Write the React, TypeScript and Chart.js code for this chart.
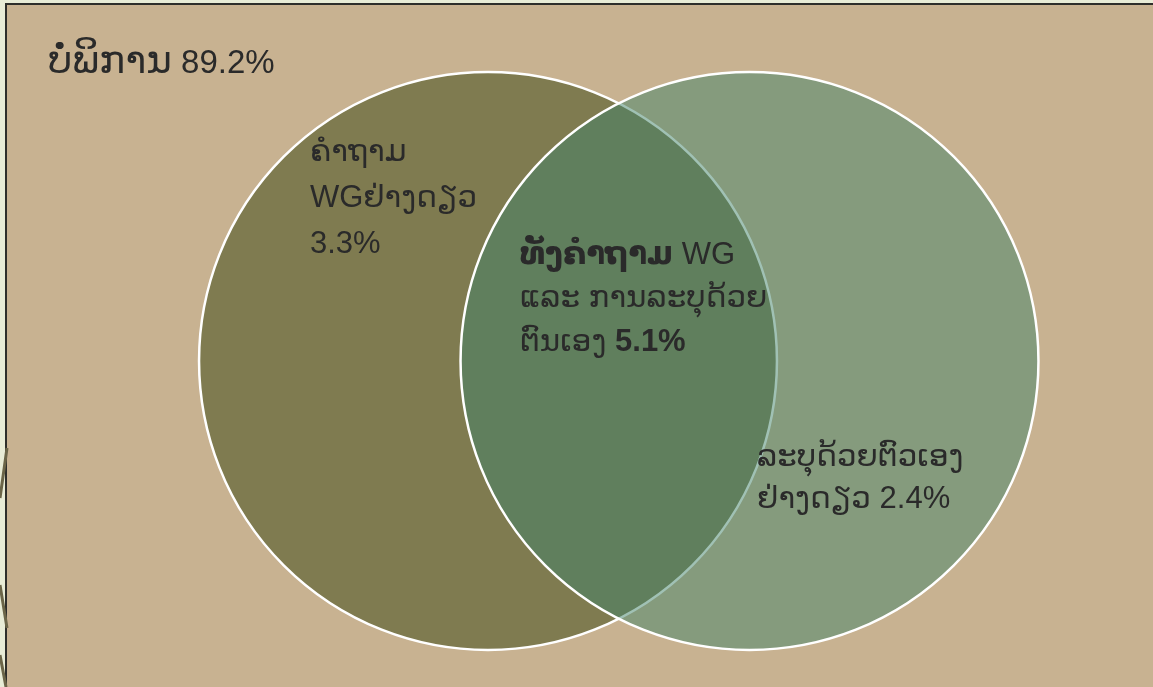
import React, { useEffect, useRef } from "react";
import { Chart, registerables } from "chart.js";

Chart.register(...registerables);

// ---- data ----
const setNames = ["ຄຳຖາມ WG", "ລະບຸດ້ວຍຕົວເອງ"];
const centerX = [-0.5, 0.5];
const centerY = [0, 0];
const radii = [1.105, 1.105];
const noneLabel = "ບໍ່ພິການ";
const noneValue = 89.2;
const onlyALines = ["ຄຳຖາມ", "WGຢ່າງດຽວ"];
const onlyAValue = 3.3;
const bothLines = ["ທັງຄຳຖາມ", " WG", "ແລະ ການລະບຸດ້ວຍ", "ຕົນເອງ "];
const bothValue = 5.1;
const onlyBLines = ["ລະບຸດ້ວຍຕົວເອງ", "ຢ່າງດຽວ "];
const onlyBValue = 2.4;

const W = 1153;
const H = 687;
const FONT = "'Liberation Sans', Arial, 'DejaVu Sans', sans-serif";
const TXT = "#2a2a2a";

type Run = { t: string; bold?: boolean };

const labelsPlugin = {
  id: "vennLabels",
  beforeDraw(chart: any) {
    const ctx = chart.ctx;
    ctx.save();
    ctx.strokeStyle = "#6b6548";
    ctx.lineWidth = 3;
    ctx.beginPath();
    ctx.moveTo(7, 448);
    ctx.lineTo(0, 498);
    ctx.moveTo(0, 585);
    ctx.lineTo(7, 628);
    ctx.moveTo(0, 655);
    ctx.lineTo(6, 687);
    ctx.stroke();
    ctx.restore();
  },
  afterDatasetsDraw(chart: any) {
    const ctx = chart.ctx;
    const xs = chart.scales.x;
    const ys = chart.scales.y;
    const drawLines = (dx: number, dy: number, lines: Run[][], lineH: number, size = 31, laoSize = 31) => {
      const px = xs.getPixelForValue(dx);
      let py = ys.getPixelForValue(dy);
      for (const line of lines) {
        let x = px;
        for (const run of line) {
          const parts = run.t.match(/[\u0E80-\u0EFF]+|[^\u0E80-\u0EFF]+/g) || [];
          for (const p of parts) {
            const lao = /[\u0E80-\u0EFF]/.test(p);
            ctx.font = `${run.bold ? "bold " : ""}${lao ? laoSize : size}px ${FONT}`;
            ctx.fillText(p, x, py);
            x += ctx.measureText(p).width;
          }
        }
        py += lineH;
      }
    };
    ctx.save();
    ctx.fillStyle = TXT;
    ctx.textBaseline = "alphabetic";
    ctx.textAlign = "left";
    drawLines(-2.183, 1.101, [[{ t: `${noneLabel} ${noneValue}%` }]], 45, 33, 39);
    drawLines(
      -1.181,
      0.765,
      [[{ t: onlyALines[0] }], [{ t: onlyALines[1] }], [{ t: `${onlyAValue}%` }]],
      46
    );
    drawLines(
      -0.378,
      0.371,
      [
        [{ t: bothLines[0], bold: true }, { t: bothLines[1] }],
        [{ t: bothLines[2] }],
        [{ t: bothLines[3] }, { t: `${bothValue}%`, bold: true }],
      ],
      43.5
    );
    drawLines(0.529, -0.402, [[{ t: onlyBLines[0] }], [{ t: `${onlyBLines[1]}${onlyBValue}%` }]], 42);
    ctx.restore();
  },
};

export default function App() {
  const ref = useRef<HTMLCanvasElement | null>(null);
  useEffect(() => {
    if (!ref.current) return;
    const unit = 261.5;
    const cx = 618.75;
    const cy = 361;
    const radiusPx = (ctx: any, r: number) => {
      const s = ctx.chart.scales.x;
      return Math.abs(s.getPixelForValue(r) - s.getPixelForValue(0));
    };
    const chart = new Chart(ref.current, {
      type: "scatter",
      data: {
        datasets: [
          {
            label: setNames[0],
            data: [{ x: centerX[0], y: centerY[0] }],
            backgroundColor: "#7f7b50",
            borderColor: "#ffffff",
            borderWidth: 2.5,
            pointRadius: (c: any) => radiusPx(c, radii[0]),
            pointHoverRadius: (c: any) => radiusPx(c, radii[0]),
            order: 1,
          },
          {
            label: setNames[1],
            data: [{ x: centerX[1], y: centerY[1] }],
            backgroundColor: "rgba(66,132,106,0.5)",
            borderColor: "#ffffff",
            borderWidth: 2.5,
            pointRadius: (c: any) => radiusPx(c, radii[1]),
            pointHoverRadius: (c: any) => radiusPx(c, radii[1]),
            order: 0,
          },
        ],
      },
      options: {
        animation: false,
        responsive: false,
        events: [],
        layout: { padding: 0 },
        plugins: { legend: { display: false }, tooltip: { enabled: false } },
        scales: {
          x: { display: false, min: -cx / unit, max: (W - cx) / unit },
          y: { display: false, min: -(H - cy) / unit, max: cy / unit },
        },
      },
      plugins: [labelsPlugin],
    });
    return () => chart.destroy();
  }, []);

  return (
    <div style={{ position: "fixed", left: 0, top: 0, width: W, height: H, background: "#e8ecd6", overflow: "hidden" }}>
      <div
        style={{
          position: "absolute",
          left: 5,
          top: 3,
          width: 1200,
          height: 720,
          border: "2px solid #2e2e2a",
          background: "#c8b291",
        }}
      />
      <canvas ref={ref} width={W} height={H} style={{ position: "absolute", left: 0, top: 0, width: W, height: H }} />
    </div>
  );
}
